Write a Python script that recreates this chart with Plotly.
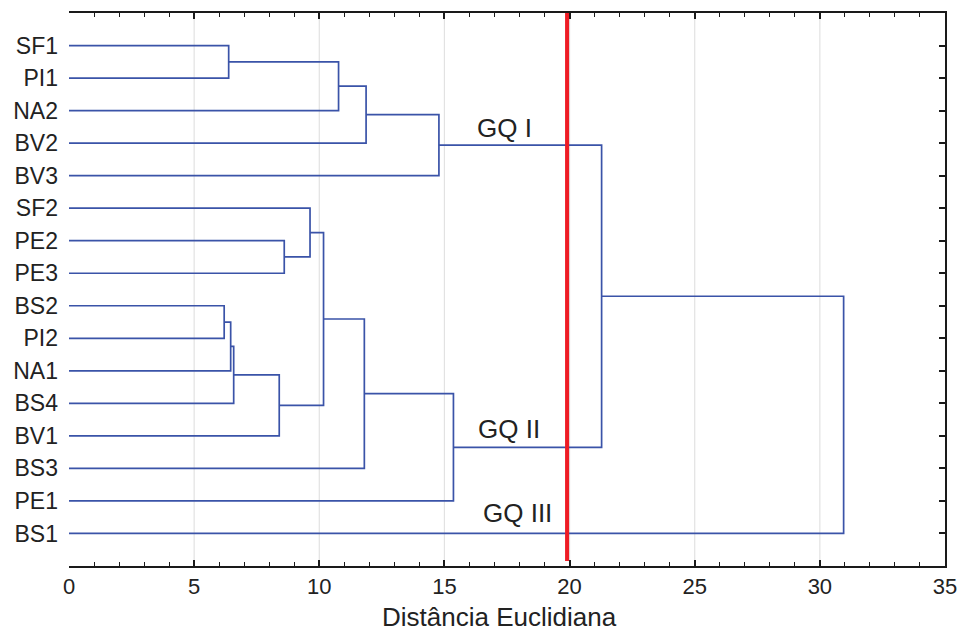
import plotly.graph_objects as go

# ---------------- data ----------------
leaves = ["SF1", "PI1", "NA2", "BV2", "BV3", "SF2", "PE2", "PE3",
          "BS2", "PI2", "NA1", "BS4", "BV1", "BS3", "PE1", "BS1"]

# merges: (left child, right child, linkage distance); children are leaf names or earlier cluster ids
merge_left = ["SF1", "C1", "C2", "C3", "PE2", "SF2", "BS2", "C7", "C8", "C9", "C6", "C11", "C12", "C4", "C14"]
merge_right = ["PI1", "NA2", "BV2", "BV3", "PE3", "C5", "PI2", "NA1", "BS4", "BV1", "C10", "BS3", "PE1", "C13", "BS1"]
merge_height = [6.38, 10.77, 11.87, 14.78, 8.60, 9.63, 6.20, 6.46, 6.58, 8.40, 10.17, 11.80, 15.36, 21.28, 30.95]

cut_distance = 19.9
group_labels = ["GQ I", "GQ II", "GQ III"]
x_tick_vals = [0, 5, 10, 15, 20, 25, 30, 35]
x_title = "Distância Euclidiana"

# ---------------- build dendrogram paths ----------------
pos = {name: (0.0, float(i)) for i, name in enumerate(leaves)}  # (height, y)
xs, ys = [], []
for k, (a, b, h) in enumerate(zip(merge_left, merge_right, merge_height), start=1):
    ha, ya = pos[a]
    hb, yb = pos[b]
    xs += [ha, h, h, hb, None]
    ys += [ya, ya, yb, yb, None]
    pos[f"C{k}"] = (h, (ya + yb) / 2)

BLUE = "#3a53a8"
fig = go.Figure()
fig.add_trace(go.Scatter(x=xs, y=ys, mode="lines",
                         line=dict(color=BLUE, width=1.7),
                         hoverinfo="skip", showlegend=False))
# invisible trace for the right-hand tick axis
fig.add_trace(go.Scatter(x=[0], y=[0], yaxis="y2", mode="markers",
                         marker=dict(opacity=0), hoverinfo="skip", showlegend=False))

FONT = "Liberation Sans, Arial, sans-serif"
TXT = "#222222"

# gridlines at major ticks (inside the frame only)
for v in x_tick_vals[1:-1]:
    fig.add_shape(type="line", xref="x", yref="paper", x0=v, x1=v, y0=0, y1=1,
                  line=dict(color="#e2e2e2", width=1.2), layer="below")

# cut line
fig.add_shape(type="line", xref="x", yref="y", x0=cut_distance, x1=cut_distance,
              y0=-1.09, y1=15.85, line=dict(color="#ee1c25", width=4), layer="above")

# group labels
label_pos = [(17.38, 2.55), (17.58, 11.8), (17.9, 14.36)]
for txt, (lx, ly) in zip(group_labels, label_pos):
    fig.add_annotation(x=lx, y=ly, xref="x", yref="y", text=txt, showarrow=False,
                       font=dict(family=FONT, size=26, color=TXT))

# x-axis title
fig.add_annotation(x=0.492, y=-0.122, xref="paper", yref="paper", text=x_title,
                   showarrow=False, xanchor="center", yanchor="bottom", borderpad=0,
                   font=dict(family=FONT, size=26, color=TXT))

n = len(leaves)
fig.update_layout(
    width=957, height=634,
    margin=dict(l=69, r=12, t=13, b=68),
    paper_bgcolor="white", plot_bgcolor="white",
    font=dict(family=FONT, color=TXT),
    xaxis=dict(range=[0, 35], tickvals=x_tick_vals, showgrid=False, zeroline=False,
               automargin=False, ticklabeloverflow="allow",
               showline=True, linecolor="#1a1a1a", linewidth=1.5, mirror="ticks",
               ticks="inside", ticklen=6, tickwidth=1.5, tickcolor="#1a1a1a",
               minor=dict(dtick=1, ticks="inside", ticklen=4, tickwidth=1.2, tickcolor="#1a1a1a"),
               tickfont=dict(size=22, color=TXT)),
    yaxis=dict(range=[n, -1], tickvals=list(range(n)), ticktext=leaves,
               automargin=False,
               showgrid=False, zeroline=False, showline=False, ticks="",
               ticklabelstandoff=10, tickfont=dict(size=23, color=TXT)),
    yaxis2=dict(range=[n, -1], overlaying="y", side="right", tickvals=list(range(n)),
                automargin=False,
                showticklabels=False, showgrid=False, zeroline=False,
                showline=True, linecolor="#1a1a1a", linewidth=1.5,
                ticks="inside", ticklen=6, tickwidth=1.5, tickcolor="#1a1a1a"),
)

fig.write_html("out.html", config={"displayModeBar": False},
               post_script="document.body.style.margin='0';document.body.style.overflow='hidden';")
